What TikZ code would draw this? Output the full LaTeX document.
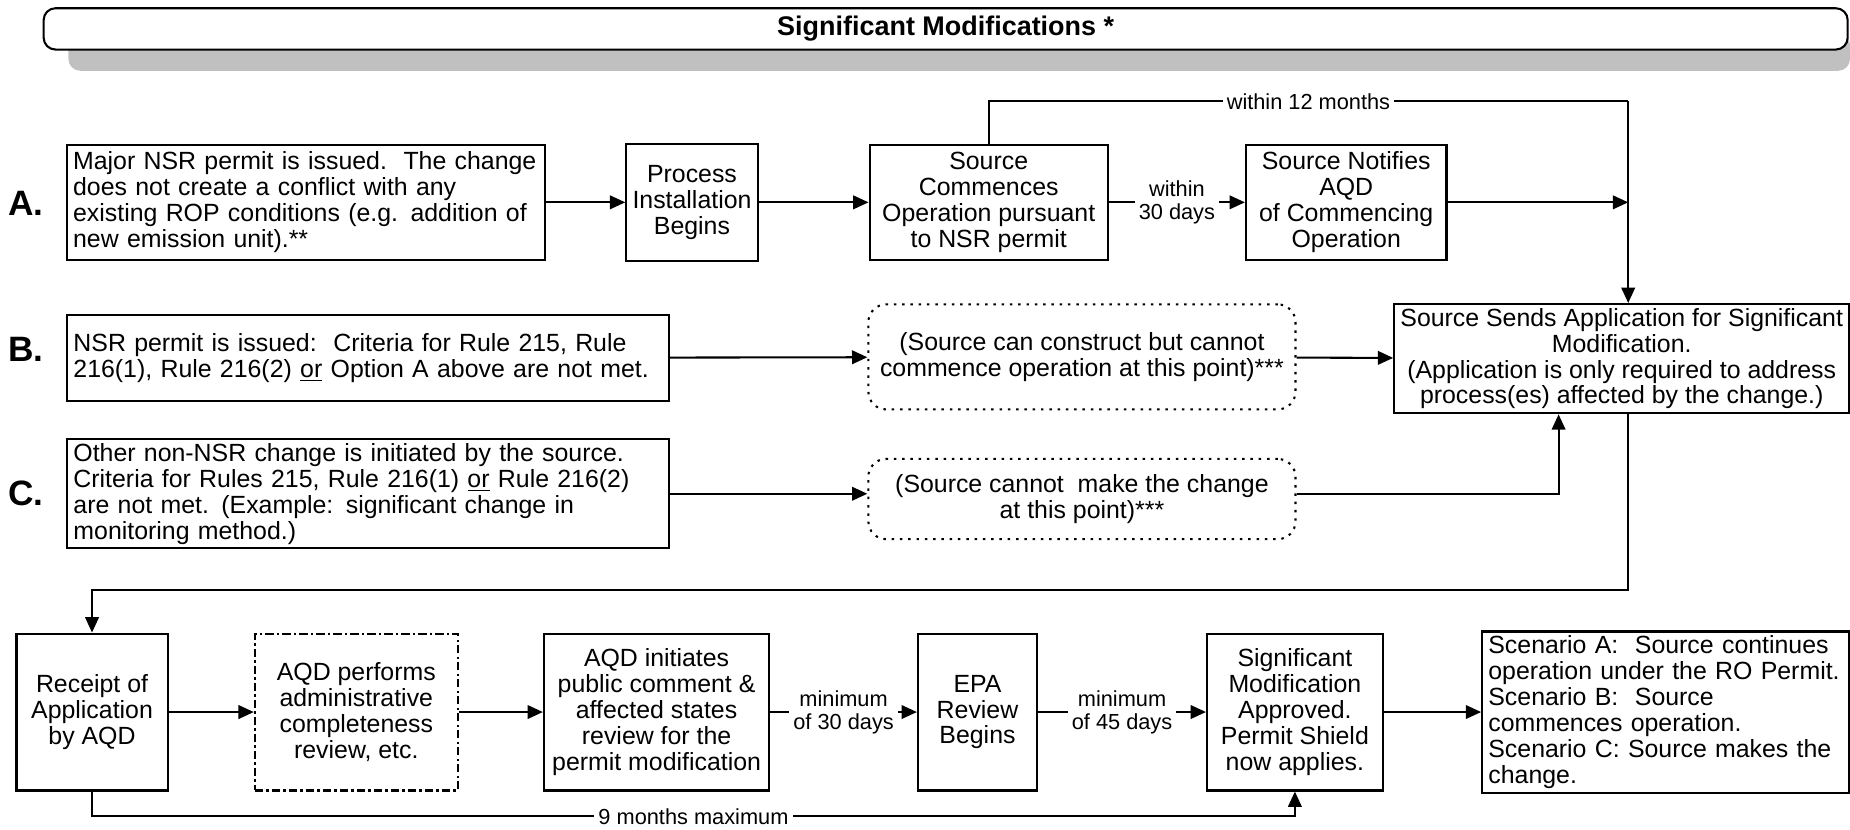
\documentclass[tikz,border=0pt]{standalone}
\usepackage{fontspec}
\setmainfont{Liberation Sans}
\usetikzlibrary{positioning, calc, arrows.meta}
\definecolor{shadowgray}{RGB}{192,192,192}
\tikzset{
    box_node/.style={rectangle, draw=black, line width=1pt, align=center, inner xsep=3pt, inner ysep=2pt, font=\fontsize{12}{12.5}\selectfont},
    left_node/.style={box_node, align=left},
    dotted_node/.style={box_node, rounded corners=0.3cm, dash pattern=on 1.2pt off 2.8pt},
    dashdot_node/.style={box_node, dash pattern=on 4pt off 1.6pt on 1pt off 1.6pt},
    title_node/.style={rectangle, rounded corners=0.2cm, draw=black, line width=1pt, fill=white, font=\fontsize{13}{14}\selectfont\bfseries},
    row_label/.style={font=\fontsize{17}{18}\selectfont\bfseries},
    small_label/.style={fill=white, inner sep=2pt, align=center, font=\fontsize{10.5}{11}\selectfont},
    arrow/.style={line width=1pt, -{Triangle[length=2.6mm, width=2.3mm]}},
    line/.style={line width=1pt},
}
\begin{document}
\begin{tikzpicture}
      \useasboundingbox (0,0) rectangle (31.36,14.06);
      %%%%%%%%%
      % Title %
      %%%%%%%%%
      \fill [shadowgray, rounded corners=0.2cm] (1.16,12.86) rectangle (31.36,13.5);
      \node (title) [title_node, minimum width=30.58cm, minimum height=0.7cm] at (16.03,13.57)
          {Significant Modifications *};

      %%%%%%%%%%%%%%
      % Scenario A %
      %%%%%%%%%%%%%%
      \node (label_a) [row_label] at (0.44,10.62) {A.};
      \node (box_a) [left_node, text width=7.9cm, minimum height=1.94cm] at (5.19,10.63)
          {Major NSR permit is issued.\ \ The change\\does not create a conflict with any\\existing ROP conditions (e.g. addition of\\new emission unit).**};
      \node (process) [box_node, minimum width=2.02cm, minimum height=1.98cm] at (11.73,10.63)
          {Process\\Installation\\Begins};
      \node (commences) [box_node, minimum width=4.04cm, minimum height=1.94cm] at (16.76,10.63)
          {Source\\Commences\\Operation pursuant\\to NSR permit};
      \node (notifies) [box_node, minimum width=3.4cm, minimum height=1.94cm] at (22.82,10.63)
          {Source Notifies\\AQD\\of Commencing\\Operation};

      %%%%%%%%%%%%%%%%%%%%
      % Scenario B and C %
      %%%%%%%%%%%%%%%%%%%%
      \node (label_b) [row_label] at (0.44,8.14) {B.};
      \node (box_b) [left_node, text width=9.99cm, minimum height=1.46cm] at (6.24,7.99)
          {NSR permit is issued:\ \ Criteria for Rule 215, Rule\\216(1), Rule 216(2) \underline{or} Option A above are not met.};
      \node (note_b) [dotted_node, minimum width=7.24cm, minimum height=1.78cm] at (18.34,8.01)
          {(Source can construct but cannot\\commence operation at this point)***};
      \node (sends) [box_node, minimum width=7.66cm, minimum height=1.84cm] at (27.49,7.98)
          {Source Sends Application for Significant\\Modification.\\(Application is only required to address\\process(es) affected by the change.)};

      \node (label_c) [row_label] at (0.44,5.7) {C.};
      \node (box_c) [left_node, text width=9.99cm, minimum height=1.78cm] at (6.24,5.69)
          {Other non-NSR change is initiated by the source.\\Criteria for Rules 215, Rule 216(1) \underline{or} Rule 216(2)\\are not met. (Example: significant change in\\monitoring method.)};
      \node (note_c) [dotted_node, minimum width=7.24cm, minimum height=1.36cm] at (18.34,5.6)
          {(Source cannot\ \ make the change\\at this point)***};

      %%%%%%%%%%%%%%%
      % AQD process %
      %%%%%%%%%%%%%%%
      \node (receipt) [box_node, minimum width=2.56cm, minimum height=2.66cm] at (1.56,1.99)
          {Receipt of\\Application\\by AQD};
      \node (performs) [dashdot_node, minimum width=3.44cm, minimum height=2.66cm] at (6.04,1.99)
          {AQD performs\\administrative\\completeness\\review, etc.};
      \node (initiates) [box_node, minimum width=3.82cm, minimum height=2.66cm] at (11.13,1.99)
          {AQD initiates\\public comment \&\\affected states\\review for the\\permit modification};
      \node (epa) [box_node, minimum width=2.02cm, minimum height=2.66cm] at (16.57,1.99)
          {EPA\\Review\\Begins};
      \node (approved) [box_node, minimum width=2.98cm, minimum height=2.66cm] at (21.95,1.99)
          {Significant\\Modification\\Approved.\\Permit Shield\\now applies.};
      \node (scenario) [left_node, text width=6.0cm, minimum height=2.66cm] at (28.23,1.99)
          {Scenario A:\ \ Source continues\\operation under the RO Permit.\\Scenario B:\ \ Source\\commences operation.\\Scenario C: Source makes the\\change.};

      %%%%%%%%%%%%%%
      % Connectors %
      %%%%%%%%%%%%%%
      \coordinate (top_join) at (27.6,12.34);
      \coordinate (c_join) at (26.42,5.69);
      \coordinate (down_join) at (27.6,4.06);
      \coordinate (low_join) at (11,0.22);

      \draw [arrow] (box_a) -- (process);
      \draw [arrow] (process) -- (commences);
      \draw [arrow] (commences) -- node [small_label] {within\\30 days} (notifies);
      \draw [line] (commences.north) |- node [small_label, pos=0.75] {within 12 months} (top_join);
      \draw [arrow] (top_join) -- (top_join |- sends.north);
      \draw [arrow] (notifies) -- (notifies -| top_join);

      \draw [arrow] (box_b) -- (note_b);
      \draw [arrow] (note_b) -- (sends);
      \draw [arrow] (box_c.east) -- (box_c.east -| note_c.west);
      \draw [arrow] (note_c.east |- c_join) -- (c_join) -- (c_join |- sends.south);

      \draw [arrow] (down_join |- sends.south) -- (down_join) -| (receipt.north);
      \draw [arrow] (receipt) -- (performs);
      \draw [arrow] (performs) -- (initiates);
      \draw [arrow] (initiates) -- node [small_label] {minimum\\of 30 days} (epa);
      \draw [arrow] (epa) -- node [small_label] {minimum\\of 45 days} (approved);
      \draw [arrow] (approved) -- (scenario);
      \draw [arrow] (receipt.south) |- node [small_label, pos=0.75] {9 months maximum} (approved.south |- low_join) -- (approved.south);

\end{tikzpicture}
\end{document}
